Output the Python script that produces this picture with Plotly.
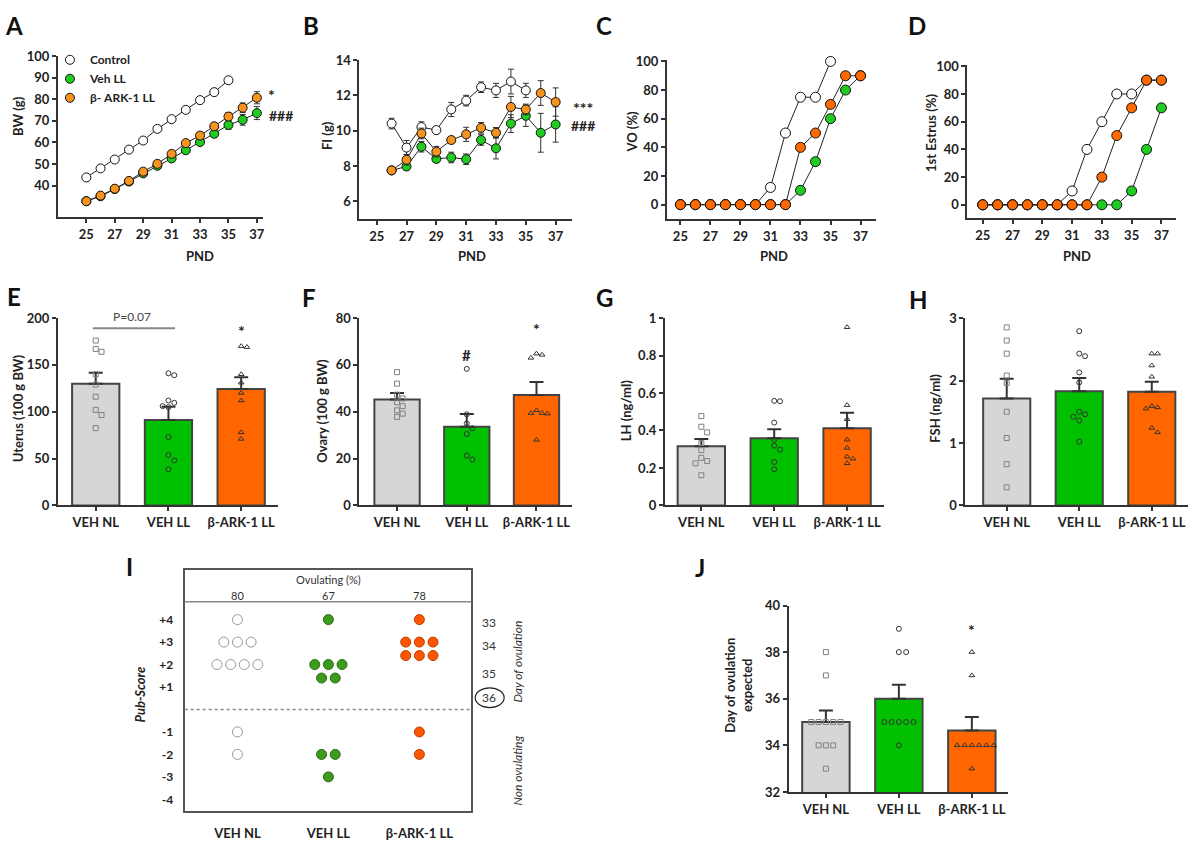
import plotly.graph_objects as go
import numpy as np

W, H = 1200, 849
FONT = "Lato, 'Open Sans', Arial, sans-serif"
AX = "#333333"

def px(x):
    return x / W

def py(y):
    return 1 - y / H

# ---------------- DATA ----------------
PND_ticks = [25, 27, 29, 31, 33, 35, 37]

# Panel A: body weight (g)
A_ctrl_x = [25, 26, 27, 28, 29, 30, 31, 32, 33, 34, 35]
A_ctrl = [43.8, 48.0, 52.1, 56.7, 60.9, 66.3, 70.8, 75.1, 79.6, 83.3, 88.8]
A_ctrl_err = [0.8, 0.8, 0.9, 0.9, 1.0, 1.0, 1.0, 1.1, 1.1, 1.2, 1.3]
A_x = [25, 26, 27, 28, 29, 30, 31, 32, 33, 34, 35, 36, 37]
A_veh = [32.8, 35.1, 38.4, 41.9, 45.7, 49.2, 52.6, 56.4, 60.2, 64.0, 68.1, 70.5, 73.6]
A_veh_err = [0.8, 0.8, 0.8, 0.9, 1.0, 1.0, 1.1, 1.2, 1.3, 1.5, 2.0, 2.5, 3.0]
A_ark = [32.8, 35.4, 38.6, 42.2, 46.5, 50.1, 54.7, 59.7, 63.2, 67.5, 72.0, 76.1, 80.7]
A_ark_err = [0.8, 0.8, 0.9, 1.0, 1.0, 1.1, 1.2, 1.3, 1.4, 1.6, 1.9, 2.2, 2.8]

# Panel B: food intake (g)
B_ctrl_x = [26, 27, 28, 29, 30, 31, 32, 33, 34, 35]
B_ctrl = [10.4, 9.04, 10.2, 10.03, 11.2, 11.7, 12.46, 12.28, 12.78, 12.28]
B_ctrl_err = [0.3, 0.4, 0.3, 0.2, 0.4, 0.3, 0.3, 0.4, 0.7, 0.4]
B_x = [26, 27, 28, 29, 30, 31, 32, 33, 34, 35, 36, 37]
B_veh = [7.75, 7.97, 9.09, 8.4, 8.48, 8.38, 9.47, 9.0, 10.4, 10.84, 9.88, 10.35]
B_veh_err = [0.1, 0.2, 0.3, 0.2, 0.3, 0.3, 0.3, 0.6, 0.5, 0.6, 1.1, 1.0]
B_ark = [7.75, 8.35, 9.84, 8.81, 9.47, 9.79, 10.16, 9.88, 11.34, 11.2, 12.13, 11.62]
B_ark_err = [0.1, 0.3, 0.3, 0.3, 0.2, 0.4, 0.3, 0.3, 0.6, 0.3, 0.7, 0.8]

# Panel C: vaginal opening (%)
C_ctrl_x = [25, 26, 27, 28, 29, 30, 31, 32, 33, 34, 35]
C_ctrl = [0, 0, 0, 0, 0, 0, 12, 50, 75, 75, 100]
C_x = [25, 26, 27, 28, 29, 30, 31, 32, 33, 34, 35, 36, 37]
C_veh = [0, 0, 0, 0, 0, 0, 0, 0, 10, 30, 60, 80, 90]
C_ark = [0, 0, 0, 0, 0, 0, 0, 0, 40, 50, 70, 90, 90]

# Panel D: 1st estrus (%)
D_x = [25, 26, 27, 28, 29, 30, 31, 32, 33, 34, 35, 36, 37]
D_ctrl = [0, 0, 0, 0, 0, 0, 10, 40, 60, 80, 80, 90, 90]
D_veh = [0, 0, 0, 0, 0, 0, 0, 0, 0, 0, 10, 40, 70]
D_ark = [0, 0, 0, 0, 0, 0, 0, 0, 20, 50, 70, 90, 90]

groups = ["VEH NL", "VEH LL", "β-ARK-1 LL"]

# Panel E: uterus
E_mean = [130, 91.3, 124.2]
E_sem = [11.5, 14.0, 12.6]
E_NL = [176, 167, 164, 140, 129, 116, 102, 96.5, 82.5]
E_LL = [141, 139, 112, 109.5, 106, 105, 73, 54, 48, 38.6]
E_ARK = [170, 169, 140, 131, 120, 112, 78, 71]

# Panel F: ovary
F_mean = [45.2, 33.6, 47.1]
F_sem = [2.8, 5.4, 5.6]
F_NL = [56.9, 52, 47.3, 45.7, 44, 42.4, 40.6, 39.2, 37.8]
F_LL = [58.3, 38.9, 35.0, 32.9, 30.5, 21.3, 19.6]
F_ARK = [64.8, 64.3, 63, 40.6, 39.4, 39.4, 39.2, 28]

# Panel G: LH
G_mean = [0.316, 0.358, 0.412]
G_sem = [0.038, 0.049, 0.083]
G_NL = [0.477, 0.42, 0.39, 0.333, 0.295, 0.254, 0.237, 0.225, 0.161]
G_LL = [0.558, 0.556, 0.442, 0.351, 0.319, 0.298, 0.232, 0.193]
G_ARK = [0.951, 0.535, 0.46, 0.351, 0.307, 0.26, 0.249, 0.225]

# Panel H: FSH
H_mean = [1.71, 1.83, 1.82]
H_sem = [0.32, 0.21, 0.16]
H_NL = [2.85, 2.64, 2.43, 2.08, 1.96, 1.5, 1.08, 0.66, 0.29]
H_LL = [2.79, 2.43, 2.39, 2.13, 1.97, 1.5, 1.46, 1.42, 1.36, 1.02]
H_ARK = [2.43, 2.43, 2.24, 2.06, 1.59, 1.57, 1.55, 1.24, 1.17]

# Panel I: pub-score counts
I_scores = [4, 3, 2, 1, -1, -2, -3, -4]
I_score_labels = ["+4", "+3", "+2", "+1", "-1", "-2", "-3", "-4"]
I_NL = [1, 3, 4, 0, 1, 1, 0, 0]
I_LL = [1, 0, 5, 0, 0, 2, 1, 0]
I_ARK = [1, 6, 0, 0, 1, 1, 0, 0]
I_ovulating = [80, 67, 78]
I_days = ["33", "34", "35", "36"]

# Panel J: day of ovulation expected
J_mean = [35.0, 36.0, 34.64]
J_sem = [0.5, 0.6, 0.58]
J_NL = [38, 37, 35, 35, 35, 35, 35, 34, 34, 34, 33]
J_LL = [39, 38, 38, 35, 35, 35, 35, 35, 34]
J_ARK = [38, 37, 34, 34, 34, 34, 34, 34, 33]

# ---------------- STYLE ----------------
C_WHITE = "white"
C_GREEN = "#1fcc1f"
C_ORANGE_AB = "#f7931e"
C_ORANGE_CD = "#ff6a00"
BAR_COLORS = ["#d6d6d6", "#00c000", "#ff6600"]
PT_SYMBOLS = ["square-open", "circle-open", "triangle-up-open"]
PT_COLORS = ["#808080", "#333333", "#333333"]
TICKFONT = dict(family=FONT, size=13, color="#222", weight="bold")

fig = go.Figure()
layout = {}


def aname(i, a):
    return a + "axis" + ("" if i == 1 else str(i))


def ref(i, a):
    return a + ("" if i == 1 else str(i))


def add_axes(i, xpx, ypx, xr, yr, xkw=None, ykw=None):
    base = dict(showline=True, linecolor=AX, linewidth=2, ticks="outside", ticklen=4,
                tickwidth=1.5, tickcolor=AX, showgrid=False, zeroline=False,
                tickfont=TICKFONT, fixedrange=True)
    xd = dict(base, domain=[px(xpx[0]), px(xpx[1])], range=xr, anchor=ref(i, "y"))
    yd = dict(base, domain=[py(ypx[1]), py(ypx[0])], range=yr, anchor=ref(i, "x"))
    xd.update(xkw or {})
    yd.update(ykw or {})
    layout[aname(i, "x")] = xd
    layout[aname(i, "y")] = yd


def line_trace(i, xs, ys, fill, err=None, size=9):
    kw = {}
    if err is not None:
        kw["error_y"] = dict(type="data", array=err, color="#333", thickness=1, width=3)
    fig.add_trace(go.Scatter(
        x=xs, y=ys, mode="lines+markers", line=dict(color="#222", width=1),
        marker=dict(size=size, color=fill, line=dict(color="#111", width=1)),
        showlegend=False, xaxis=ref(i, "x"), yaxis=ref(i, "y"), cliponaxis=False, **kw))


def swarm(vals, span, step=0.09, tol_px=6.0, h_px=190.0):
    tol = span * tol_px / h_px
    placed, offs = [], []
    for v in vals:
        used = [o for (pv, o) in placed if abs(pv - v) < tol]
        k = 0
        while True:
            cand = 0.0 if k == 0 else ((k + 1) // 2) * step * (1 if k % 2 else -1)
            if all(abs(cand - u) > step * 0.5 for u in used):
                break
            k += 1
        placed.append((v, cand))
        offs.append(cand)
    return offs


def bar_panel(i, means, sems, pts, span, step=0.08, psize=5):
    xs = list(range(len(groups)))
    fig.add_trace(go.Bar(
        x=xs, y=means, width=0.65,
        marker=dict(color=BAR_COLORS, line=dict(color="#444", width=2)),
        error_y=dict(type="data", symmetric=False, array=sems, arrayminus=[0] * len(sems),
                     color="#333", thickness=2, width=7),
        showlegend=False, xaxis=ref(i, "x"), yaxis=ref(i, "y")))
    for g, vals in enumerate(pts):
        offs = swarm(vals, span, step=step)
        fig.add_trace(go.Scatter(
            x=[g + o for o in offs], y=vals, mode="markers",
            marker=dict(symbol=PT_SYMBOLS[g], size=psize, color=PT_COLORS[g],
                        line=dict(width=1, color=PT_COLORS[g])),
            showlegend=False, xaxis=ref(i, "x"), yaxis=ref(i, "y"), cliponaxis=False))


# ---------------- PANELS A-D ----------------
add_axes(1, (58, 263), (49, 213), [23.0, 37.4], [25.5, 100],
         xkw=dict(tickvals=PND_ticks), ykw=dict(tickvals=[40, 50, 60, 70, 80, 90, 100]))
line_trace(1, A_ctrl_x, A_ctrl, C_WHITE, A_ctrl_err)
line_trace(1, A_x, A_veh, C_GREEN, A_veh_err)
line_trace(1, A_x, A_ark, C_ORANGE_AB, A_ark_err)

add_axes(2, (360, 573), (53, 215), [23.84, 38.1], [5, 14],
         xkw=dict(tickvals=PND_ticks), ykw=dict(tickvals=[6, 8, 10, 12, 14]))
line_trace(2, B_ctrl_x, B_ctrl, C_WHITE, B_ctrl_err)
line_trace(2, B_x, B_veh, C_GREEN, B_veh_err)
line_trace(2, B_x, B_ark, C_ORANGE_AB, B_ark_err)

add_axes(3, (668, 877), (53, 215), [24.1, 38.0], [-10, 101],
         xkw=dict(tickvals=PND_ticks), ykw=dict(tickvals=[0, 20, 40, 60, 80, 100]))
line_trace(3, C_ctrl_x, C_ctrl, C_WHITE, size=10)
line_trace(3, C_x, C_veh, C_GREEN, size=10)
line_trace(3, C_x, C_ark, C_ORANGE_CD, size=10)

add_axes(4, (969, 1178), (58, 214), [23.97, 37.98], [-9.5, 101],
         xkw=dict(tickvals=PND_ticks), ykw=dict(tickvals=[0, 20, 40, 60, 80, 100]))
line_trace(4, D_x, D_ctrl, C_WHITE, size=10)
line_trace(4, D_x, D_veh, C_GREEN, size=10)
line_trace(4, D_x, D_ark, C_ORANGE_CD, size=10)

# legend-only traces
for nm, col in [("Control", C_WHITE), ("Veh LL", C_GREEN), ("β- ARK-1 LL", C_ORANGE_AB)]:
    fig.add_trace(go.Scatter(x=[None], y=[None], mode="markers", name=nm,
                             marker=dict(size=9, color=col, line=dict(color="#111", width=1)),
                             xaxis="x", yaxis="y", showlegend=True))

# ---------------- PANELS E-H ----------------
cat_x = dict(tickvals=[0, 1, 2], ticktext=groups)
add_axes(5, (58, 278), (316, 507), [-0.52, 2.5], [0, 200], xkw=cat_x,
         ykw=dict(tickvals=[0, 50, 100, 150, 200]))
bar_panel(5, E_mean, E_sem, [E_NL, E_LL, E_ARK], 200)

add_axes(6, (360, 573), (316, 507), [-0.54, 2.51], [0, 80], xkw=cat_x,
         ykw=dict(tickvals=[0, 20, 40, 60, 80]))
bar_panel(6, F_mean, F_sem, [F_NL, F_LL, F_ARK], 80)

add_axes(7, (666, 885), (316, 507), [-0.5, 2.5], [0, 1], xkw=cat_x,
         ykw=dict(tickvals=[0, 0.2, 0.4, 0.6, 0.8, 1], ticktext=["0", "0.2", "0.4", "0.6", "0.8", "1"]))
bar_panel(7, G_mean, G_sem, [G_NL, G_LL, G_ARK], 1)

add_axes(8, (967, 1190), (316, 507), [-0.57, 2.5], [0, 3], xkw=cat_x,
         ykw=dict(tickvals=[0, 1, 2, 3]))
bar_panel(8, H_mean, H_sem, [H_NL, H_LL, H_ARK], 3)

# ---------------- PANEL I ----------------
add_axes(9, (185, 472), (573, 818), [-0.58, 2.57], [-4.5, 6.2],
         xkw=dict(mirror=True, linecolor="#555", tickvals=[0, 1, 2], ticktext=groups,
                  ticklen=10, tickcolor="rgba(0,0,0,0)"),
         ykw=dict(mirror=True, linecolor="#555", tickvals=I_scores, ticktext=I_score_labels,
                  ticklen=7, tickcolor="rgba(0,0,0,0)",
                  tickfont=dict(family=FONT, size=12, color="#222", weight="bold")))

I_fill = [("white", "#999"), ("#3c9a1c", "#2c6a14"), ("#ff5500", "#b84000")]
dx_I = 0.15
for g, counts in enumerate([I_NL, I_LL, I_ARK]):
    xs, ys = [], []
    for sc, n in zip(I_scores, counts):
        if n == 0:
            continue
        per_row = n if n <= 4 else 3
        r = 0
        left = n
        while left > 0:
            m = min(per_row, left)
            for j in range(m):
                xs.append(g + (j - (m - 1) / 2) * dx_I)
                ys.append(sc - 0.6 * r)
            left -= m
            r += 1
    fig.add_trace(go.Scatter(x=xs, y=ys, mode="markers",
                             marker=dict(size=10, color=I_fill[g][0],
                                         line=dict(color=I_fill[g][1], width=1)),
                             showlegend=False, xaxis="x9", yaxis="y9"))

# ---------------- PANEL J ----------------
add_axes(10, (790, 1010), (609, 799), [-0.51, 2.5], [32, 40], xkw=cat_x,
         ykw=dict(tickvals=[32, 34, 36, 38, 40]))
bar_panel(10, J_mean, J_sem, [J_NL, J_LL, J_ARK], 8, step=0.1, psize=5)

# ---------------- ANNOTATIONS ----------------
ann = []


def ptext(x, y, text, size=13, bold=True, angle=0, color="#222", italic=False, xanchor="center"):
    t = text
    if italic:
        t = "<i>" + t + "</i>"
    ann.append(dict(x=px(x), y=py(y), xref="paper", yref="paper", text=t, showarrow=False,
                    textangle=angle, xanchor=xanchor, yanchor="middle",
                    font=dict(family=FONT, size=size, color=color,
                              weight="bold" if bold else "normal")))


# panel letters
for L, (x, y) in {"A": (14, 18), "B": (312, 18), "C": (605, 18), "D": (919, 18),
                  "E": (14, 294), "F": (310, 295), "G": (606, 295), "H": (920, 297),
                  "I": (130, 569), "J": (701, 570)}.items():
    ptext(x, y, L, size=24, bold=True, color="#111")

# axis titles
for x, y, t in [(18, 110, "BW (g)"), (327, 130, "FI (g)"), (633, 126, "VO (%)"),
                (932, 127, "1st Estrus (%)"), (18, 408, "Uterus (100 g BW)"),
                (323, 410, "Ovary (100 g BW)"), (627, 410, "LH (ng/ml)"),
                (937, 408, "FSH (ng/ml)"), (740, 690, "Day of ovulation<br>expected")]:
    ptext(x, y, t, size=13, angle=-90)
for x in (200, 473, 775, 1079):
    ptext(x, 253, "PND", size=13)

# significance marks
ptext(272, 88, "*", size=16)
ptext(281, 110, "###", size=14)
ptext(584, 101, "***", size=16)
ptext(584, 120, "###", size=14)


def dtext(i, x, y, text, size=16, bold=True, color="#222"):
    ann.append(dict(x=x, y=y, xref=ref(i, "x"), yref=ref(i, "y"), text=text, showarrow=False,
                    yanchor="middle", font=dict(family=FONT, size=size, color=color,
                                                weight="bold" if bold else "normal")))


dtext(5, 2, 187, "*")
dtext(6, 1, 64.3, "#", size=15)
dtext(6, 2, 75.5, "*")
dtext(10, 2, 38.95, "*")
ann.append(dict(x=0.5, y=192, xref="x5", yref="y5", text="P=0.07", showarrow=False,
                yanchor="bottom", font=dict(family=FONT, size=12, color="#444")))

# panel I texts
ptext(329, 582, "Ovulating (%)", size=11, bold=False, color="#333")
for g, v in enumerate(I_ovulating):
    ann.append(dict(x=g, y=py(599), xref="x9", yref="paper", text=str(v), showarrow=False,
                    yanchor="middle", font=dict(family=FONT, size=11, color="#333")))
for t, y in zip(I_days, [626, 650, 678, 703]):
    ptext(490, y, t, size=12, bold=False, color="#333")
ptext(518, 666, "Day of ovulation", size=12, bold=False, angle=-90, italic=True, color="#333")
ptext(518, 777, "Non ovulating", size=12, bold=False, angle=-90, italic=True, color="#333")
ptext(140, 700, "<b>Pub-Score</b>", size=13, bold=True, angle=-90, italic=True, color="#222")

shapes = [
    dict(type="line", xref="x5", yref="y5", x0=-0.04, x1=1.09, y0=189, y1=189,
         line=dict(color="#888", width=2)),
    dict(type="line", xref="x9 domain", yref="y9", x0=0, x1=1, y0=4.8, y1=4.8,
         line=dict(color="#888", width=1.5)),
    dict(type="line", xref="x9 domain", yref="y9", x0=0, x1=1, y0=0, y1=0,
         line=dict(color="#888", width=1.5, dash="dot")),
    dict(type="circle", xref="paper", yref="paper", x0=px(476), x1=px(505),
         y0=py(713), y1=py(693), line=dict(color="#222", width=1.2)),
]

layout.update(dict(
    width=W, height=H, margin=dict(l=0, r=0, t=0, b=0),
    plot_bgcolor="white", paper_bgcolor="white",
    font=dict(family=FONT, color="#222"),
    annotations=ann, shapes=shapes, bargap=0.3,
    legend=dict(x=px(50), y=py(38), xanchor="left", yanchor="top",
                bgcolor="rgba(0,0,0,0)", tracegroupgap=0,
                font=dict(family=FONT, size=12, color="#222", weight="bold")),
))
fig.update_layout(**layout)
fig.write_html("out.html", config={"displayModeBar": False},
               post_script="document.body.style.margin='0';document.body.style.overflow='hidden';")
